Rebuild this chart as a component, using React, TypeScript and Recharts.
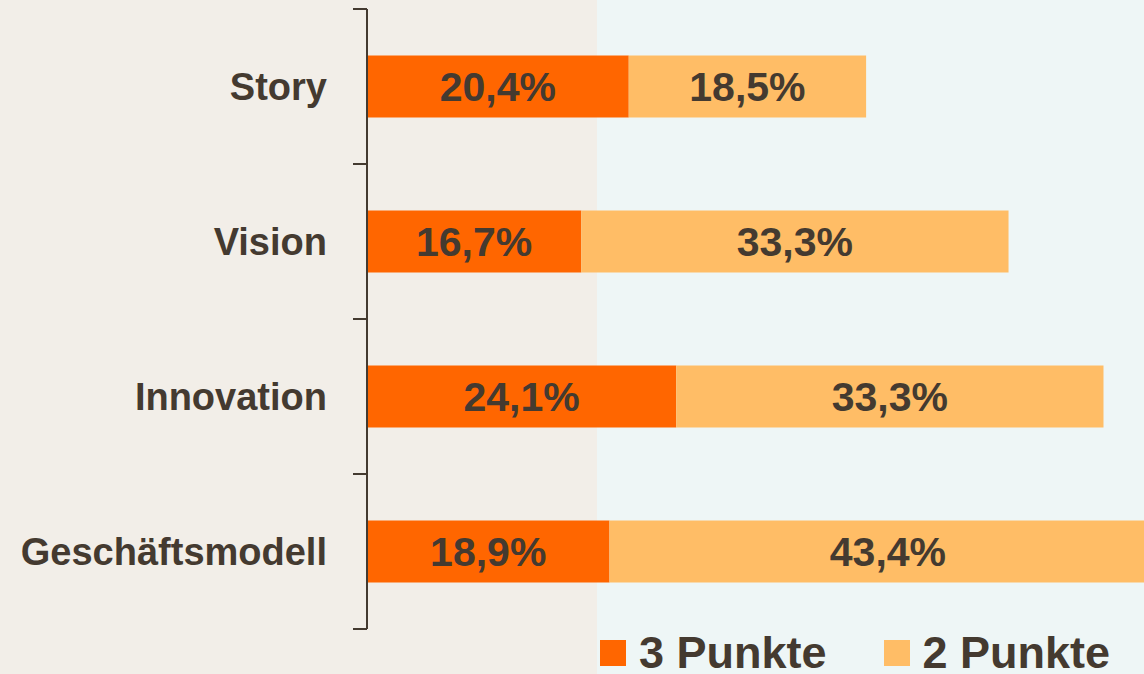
import React from "react";
import { BarChart, Bar, XAxis, YAxis, Legend, LabelList } from "recharts";

const categories = ["Story", "Vision", "Innovation", "Geschäftsmodell"];
const threePoints = [20.4, 16.7, 24.1, 18.9];
const twoPoints = [18.5, 33.3, 33.3, 43.4];
const seriesNames = ["3 Punkte", "2 Punkte"];

const data = categories.map((name, i) => ({
  name,
  p3: threePoints[i],
  p2: twoPoints[i],
}));

const TEXT = "#443a30";
const ORANGE = "#ff6600";
const LIGHT = "#ffbd66";
const FONT = "'Liberation Sans', Arial, sans-serif";

const CHART_W = 1201;
const CHART_H = 674;
const MARGIN = { top: 9, right: 0, bottom: 45, left: 0 };
const BAND = (CHART_H - MARGIN.top - MARGIN.bottom) / categories.length;

const fmt = (v: number) => v.toFixed(1).replace(".", ",") + "%";

const CategoryTick = (props: any) => {
  const { x, y, payload, index } = props;
  const axisX = x + 40;
  const last = index === categories.length - 1;
  return (
    <g>
      <line x1={axisX - 14} x2={axisX} y1={y - BAND / 2} y2={y - BAND / 2} stroke={TEXT} strokeWidth={2} />
      {last && <line x1={axisX - 14} x2={axisX} y1={y + BAND / 2} y2={y + BAND / 2} stroke={TEXT} strokeWidth={2} />}
      <text x={x} y={y} dy="0.36em" textAnchor="end" fill={TEXT} fontSize={38} fontWeight={700} fontFamily={FONT}>
        {payload.value}
      </text>
    </g>
  );
};

const LegendContent = () => (
  <div style={{ display: "flex", alignItems: "center", fontFamily: FONT, fontWeight: 700, fontSize: 45, color: TEXT, whiteSpace: "nowrap", lineHeight: "40px", height: 40 }}>
    {seriesNames.map((n, i) => (
      <div key={n} style={{ display: "flex", alignItems: "center", marginRight: i === 0 ? 57 : 0 }}>
        <span style={{ display: "inline-block", width: 26, height: 26, background: i === 0 ? ORANGE : LIGHT, marginRight: 13 }} />
        <span>{n}</span>
      </div>
    ))}
  </div>
);

export default function App() {
  return (
    <div
      style={{
        position: "fixed",
        left: 0,
        top: 0,
        width: 1144,
        height: 674,
        overflow: "hidden",
        background: "linear-gradient(to right, #f2eee8 0px, #f2eee8 597px, #eef6f6 597px, #eef6f6 100%)",
      }}
    >
      <BarChart
        width={CHART_W}
        height={CHART_H}
        data={data}
        layout="vertical"
        margin={MARGIN}
        barCategoryGap="30%"
      >
        <XAxis type="number" domain={[0, 65]} hide />
        <YAxis
          type="category"
          dataKey="name"
          width={367}
          tickLine={false}
          tickSize={0}
          tickMargin={40}
          axisLine={{ stroke: TEXT, strokeWidth: 2 }}
          tick={<CategoryTick />}
        />
        <Legend
          layout="horizontal"
          verticalAlign="middle"
          content={<LegendContent />}
          wrapperStyle={{ left: 600, top: 633, width: 560, height: 40 }}
        />
        <Bar dataKey="p3" name={seriesNames[0]} stackId="a" fill={ORANGE} isAnimationActive={false}>
          <LabelList dataKey="p3" position="center" formatter={fmt} fill={TEXT} fontSize={41} fontWeight={700} fontFamily={FONT} />
        </Bar>
        <Bar dataKey="p2" name={seriesNames[1]} stackId="a" fill={LIGHT} isAnimationActive={false}>
          <LabelList dataKey="p2" position="center" formatter={fmt} fill={TEXT} fontSize={41} fontWeight={700} fontFamily={FONT} />
        </Bar>
      </BarChart>
    </div>
  );
}
